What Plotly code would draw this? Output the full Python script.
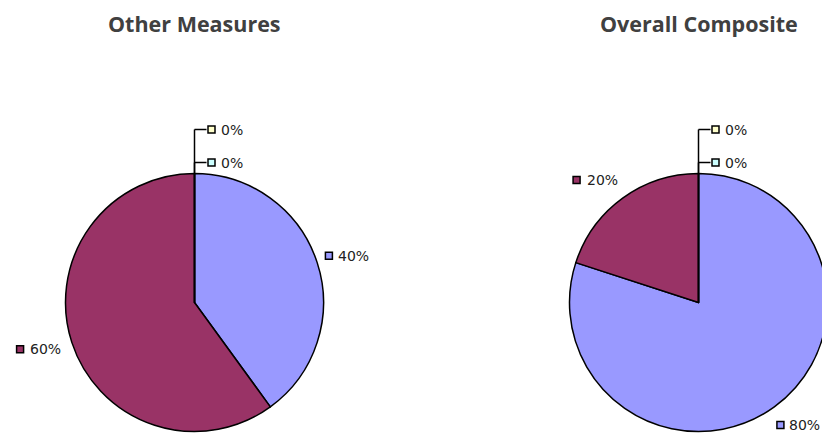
import math
import plotly.graph_objects as go

W, H = 830, 435
OFF = 8  # page body margin, the figure is drawn 8px in from the window corner
FW, FH = W - OFF, H - OFF

categories = ["Series A", "Series B", "Series C", "Series D"]
colors = ["#9999FF", "#993366", "#CCFFFF", "#FFFFCC"]
titles = ["Other Measures", "Overall Composite"]
other_measures = [40, 60, 0, 0]
overall_composite = [80, 20, 0, 0]
all_values = [other_measures, overall_composite]

# pie geometry in window pixels (center x, center y, radius)
centers_x = [194.5, 698.5]
center_y = 302.5
radius = 129

fig = go.Figure()

for k, vals in enumerate(all_values):
    cx = centers_x[k]
    fig.add_trace(go.Pie(
        values=vals, labels=categories, sort=False, direction="clockwise", rotation=0,
        textinfo="none", hoverinfo="label+percent", showlegend=False,
        marker=dict(colors=colors, line=dict(color="black", width=1.5)),
        domain=dict(x=[(cx - radius - OFF) / FW, (cx + radius - OFF) / FW],
                    y=[(H - (center_y + radius)) / FH, (H - (center_y - radius)) / FH]),
    ))
    fig.add_annotation(text="<b>" + titles[k] + "</b>", x=cx, y=23, xref="x", yref="y",
                       showarrow=False, font=dict(family="Open Sans", size=21.5, color="#404040"))

    total = sum(vals)
    start = 0.0
    zero_idx = 0
    top_y = center_y - radius
    lx, ly, lc, tx, ty, tt, ta = [], [], [], [], [], [], []
    for i, v in enumerate(vals):
        pct = v / total
        label = "%d%%" % round(pct * 100)
        if v == 0:
            y = top_y - 11 - 33 * zero_idx
            zero_idx += 1
            fig.add_shape(type="line", x0=cx, x1=cx + 12, y0=y, y1=y, xref="x", yref="y",
                          line=dict(color="black", width=1.5))
            fig.add_shape(type="line", x0=cx, x1=cx, y0=top_y, y1=y, xref="x", yref="y",
                          line=dict(color="black", width=1.5))
            mx = cx + 17
            lx.append(mx); ly.append(y); lc.append(colors[i])
            tx.append(mx + 7); ty.append(y); tt.append(label); ta.append("left")
        else:
            mid = (start + pct / 2) * 2 * math.pi
            px_ = cx + 1.12 * radius * math.sin(mid)
            py_ = center_y - 1.12 * radius * math.cos(mid) - 7 * math.cos(mid)
            if math.sin(mid) >= 0:
                mx = px_ - 3
                tx.append(mx + 7); ta.append("left")
            else:
                mx = px_ + 6 - 43
                tx.append(px_ + 6); ta.append("right")
            lx.append(mx); ly.append(py_); lc.append(colors[i])
            ty.append(py_); tt.append(label)
        start += pct
    fig.add_trace(go.Scatter(x=lx, y=ly, mode="markers", showlegend=False, hoverinfo="skip",
                             marker=dict(symbol="square", size=7, color=lc,
                                         line=dict(color="black", width=1.5))))
    for x, y, t, a in zip(tx, ty, tt, ta):
        fig.add_annotation(text=t, x=x, y=y, xref="x", yref="y", xanchor=a, showarrow=False,
                           font=dict(family="DejaVu Sans", size=14, color="#222222"))

fig.update_layout(
    width=FW, height=FH, margin=dict(l=0, r=0, t=0, b=0),
    paper_bgcolor="white", plot_bgcolor="rgba(0,0,0,0)",
    xaxis=dict(range=[OFF, W], visible=False, fixedrange=True),
    yaxis=dict(range=[H, OFF], visible=False, fixedrange=True),
)
fig.write_html("out.html")
